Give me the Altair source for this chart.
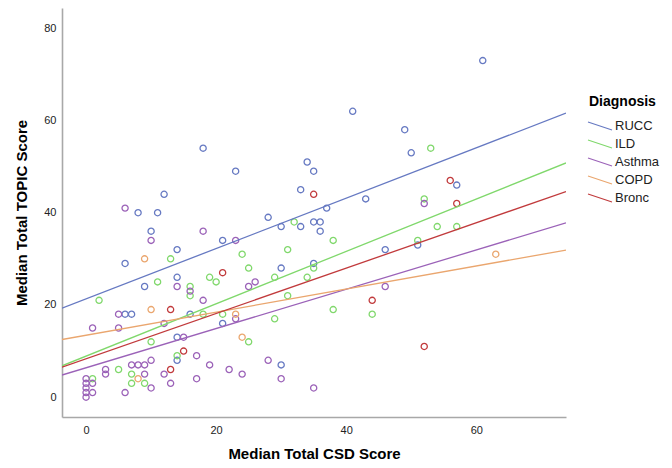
import altair as alt
import pandas as pd

groups = ["RUCC", "ILD", "Asthma", "COPD", "Bronc"]
colors = ["#6679c2", "#80d86c", "#9b62b8", "#eaa66e", "#c13a3c"]

rucc_x = [41, 61, 49, 18, 12, 8, 11, 10, 21, 14, 6, 14, 23, 34, 35, 33, 43, 37, 28, 30,
          33, 35, 36, 36, 46, 35, 30, 50, 57, 51, 9, 6, 7, 16, 21, 14, 14, 30]
rucc_y = [62, 73, 58, 54, 44, 40, 40, 36, 34, 32, 29, 26, 49, 51, 49, 45, 43, 41, 39, 37,
          37, 38, 38, 36, 32, 29, 28, 53, 46, 33, 24, 18, 18, 18, 16, 13, 8, 7]

ild_x = [13, 11, 19, 20, 32, 38, 31, 24, 25, 35, 29, 34, 53, 52, 54, 57, 51, 2, 18, 21,
         10, 14, 5, 7, 1, 7, 9, 31, 38, 44, 29, 25, 16, 16]
ild_y = [30, 25, 26, 25, 38, 34, 32, 31, 28, 28, 26, 26, 54, 43, 37, 37, 34, 21, 18, 18,
         12, 9, 6, 5, 4, 3, 3, 22, 19, 18, 17, 12, 24, 22]

asthma_x = [6, 18, 10, 23, 14, 16, 18, 5, 12, 1, 5, 15, 17, 10, 7, 8, 9, 19, 22, 3, 3, 9,
            12, 0, 17, 13, 10, 6, 0, 0, 0, 0, 1, 1, 25, 26, 46, 23, 28, 24, 30, 35, 52]
asthma_y = [41, 36, 34, 34, 24, 23, 21, 18, 16, 15, 15, 13, 9, 8, 7, 7, 7, 7, 6, 6, 5, 5,
            5, 4, 4, 3, 2, 1, 3, 2, 1, 0, 3, 1, 24, 25, 24, 17, 8, 5, 4, 2, 42]

copd_x = [9, 10, 8, 23, 24, 63]
copd_y = [30, 19, 4, 18, 13, 31]

bronc_x = [21, 35, 13, 15, 13, 56, 57, 44, 52]
bronc_y = [27, 44, 19, 10, 6, 47, 42, 21, 11]

# fit lines, at the two ends of the x axis
fit_x = [-3.7, 73.8]
fit_left = [19.3, 6.8, 4.8, 12.5, 6.5]
fit_right = [61.6, 50.8, 37.8, 31.9, 44.6]

series = {
    "RUCC": (rucc_x, rucc_y),
    "ILD": (ild_x, ild_y),
    "Asthma": (asthma_x, asthma_y),
    "COPD": (copd_x, copd_y),
    "Bronc": (bronc_x, bronc_y),
}
rows = []
for g, (xs, ys) in series.items():
    for a, b in zip(xs, ys):
        rows.append({"Diagnosis": g, "csd": a, "topic": b})
pts = pd.DataFrame(rows)

lrows = []
for g, l, r in zip(groups, fit_left, fit_right):
    lrows.append({"Diagnosis": g, "csd": fit_x[0], "topic": l})
    lrows.append({"Diagnosis": g, "csd": fit_x[1], "topic": r})
lines = pd.DataFrame(lrows)

xsc = alt.Scale(domain=[-3.7, 73.8], nice=False, zero=False)
ysc = alt.Scale(domain=[-4.3, 84.4], nice=False, zero=False)
csc = alt.Scale(domain=groups, range=colors)

xax = alt.Axis(values=[0, 20, 40, 60], title="Median Total CSD Score", grid=False,
               ticks=False, labelPadding=7, titlePadding=11)
yax = alt.Axis(values=[0, 20, 40, 60, 80], title="Median Total TOPIC Score", grid=False,
               ticks=False, labelPadding=6, titlePadding=14)

leg = alt.Legend(title="Diagnosis", orient="none", legendX=527, legendY=87,
                 symbolType="M -1.2 -0.4 L 1.2 0.4", symbolSize=400,
                 symbolStrokeWidth=1.3, symbolFillColor="transparent",
                 rowPadding=0, titlePadding=6, labelOffset=4, padding=0)

points = alt.Chart(pts).mark_point(shape="circle", filled=False, size=38, strokeWidth=1.3,
                                   opacity=1).encode(
    x=alt.X("csd:Q", scale=xsc, axis=xax),
    y=alt.Y("topic:Q", scale=ysc, axis=yax),
    color=alt.Color("Diagnosis:N", scale=csc, legend=leg),
)

fits = alt.Chart(lines).mark_line(strokeWidth=1.3, clip=True).encode(
    x=alt.X("csd:Q", scale=xsc),
    y=alt.Y("topic:Q", scale=ysc),
    color=alt.Color("Diagnosis:N", scale=csc, legend=leg),
    detail="Diagnosis:N",
)

chart = alt.layer(points, fits).properties(
    width=504, height=409,
    autosize=alt.AutoSizeParams(type="none"),
    padding={"left": 54, "top": 0, "right": 98, "bottom": 43},
).configure_view(stroke=None).configure_axis(
    domainColor="#a8a8a8", domainWidth=1.6,
    labelFont="Liberation Sans", labelFontSize=11, labelColor="#222222",
    titleFont="Liberation Sans", titleFontSize=15, titleFontWeight="bold", titleColor="#000000",
).configure_legend(
    titleFont="Liberation Sans", titleFontSize=14, titleFontWeight="bold", titleColor="#000000",
    labelFont="Liberation Sans", labelFontSize=13, labelColor="#222222",
)

chart.save("out.html", embed_options={"renderer": "svg", "actions": False})
